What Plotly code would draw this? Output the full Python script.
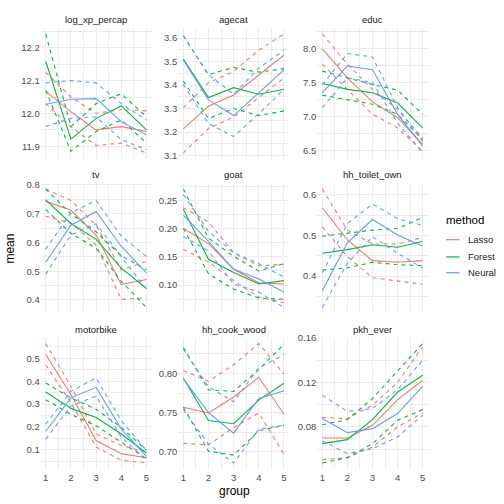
import plotly.graph_objects as go

groups = [1, 2, 3, 4, 5]
methods = ["Lasso", "Forest", "Neural"]
colors = {"Lasso": "#F8766D", "Forest": "#00BA38", "Neural": "#619CFF"}
panel_names = ["log_xp_percap", "agecat", "educ", "tv", "goat",
               "hh_toilet_own", "motorbike", "hh_cook_wood", "pkh_ever"]

# each method: mean, lower bound, upper bound
log_xp_percap = {
    "Lasso":  {"mean": [12.068, 12.005, 11.950, 11.960, 11.945],
               "lo":   [12.030, 11.960, 11.902, 11.910, 11.880],
               "hi":   [12.125, 12.050, 12.000, 12.012, 12.008]},
    "Forest": {"mean": [12.158, 11.922, 11.985, 12.023, 11.950],
               "lo":   [12.070, 11.885, 11.945, 11.980, 11.910],
               "hi":   [12.242, 11.960, 12.030, 12.060, 11.990]},
    "Neural": {"mean": [12.028, 12.043, 12.045, 11.975, 11.935],
               "lo":   [11.960, 11.985, 11.990, 11.920, 11.890],
               "hi":   [12.093, 12.100, 12.093, 12.030, 11.980]},
}
agecat = {
    "Lasso":  {"mean": [3.213, 3.310, 3.358, 3.445, 3.528],
               "lo":   [3.111, 3.215, 3.264, 3.347, 3.430],
               "hi":   [3.304, 3.410, 3.458, 3.549, 3.618]},
    "Forest": {"mean": [3.511, 3.347, 3.389, 3.361, 3.382],
               "lo":   [3.417, 3.257, 3.300, 3.270, 3.290],
               "hi":   [3.610, 3.445, 3.475, 3.455, 3.470]},
    "Neural": {"mean": [3.507, 3.337, 3.270, 3.368, 3.465],
               "lo":   [3.403, 3.236, 3.181, 3.278, 3.382],
               "hi":   [3.611, 3.444, 3.361, 3.472, 3.549]},
}
educ = {
    "Lasso":  {"mean": [8.000, 7.570, 7.215, 6.980, 6.585],
               "lo":   [7.770, 7.400, 7.030, 6.830, 6.485],
               "hi":   [8.220, 7.770, 7.400, 7.100, 6.680]},
    "Forest": {"mean": [7.487, 7.400, 7.350, 7.200, 6.830],
               "lo":   [7.314, 7.250, 7.180, 7.030, 6.660],
               "hi":   [7.670, 7.570, 7.470, 7.390, 7.030]},
    "Neural": {"mean": [7.350, 7.745, 7.690, 7.030, 6.560],
               "lo":   [7.130, 7.570, 7.500, 6.900, 6.460],
               "hi":   [7.470, 7.930, 7.880, 7.130, 6.630]},
}
tv = {
    "Lasso":  {"mean": [0.743, 0.712, 0.626, 0.454, 0.471],
               "lo":   [0.691, 0.668, 0.591, 0.402, 0.408],
               "hi":   [0.786, 0.746, 0.660, 0.505, 0.534]},
    "Forest": {"mean": [0.748, 0.666, 0.611, 0.511, 0.440],
               "lo":   [0.714, 0.632, 0.580, 0.465, 0.374],
               "hi":   [0.786, 0.700, 0.637, 0.554, 0.505]},
    "Neural": {"mean": [0.531, 0.660, 0.708, 0.586, 0.494],
               "lo":   [0.490, 0.626, 0.665, 0.551, 0.437],
               "hi":   [0.577, 0.703, 0.746, 0.622, 0.551]},
}
goat = {
    "Lasso":  {"mean": [0.2007, 0.1735, 0.128, 0.104, 0.102],
               "lo":   [0.163, 0.141, 0.108, 0.079, 0.069],
               "hi":   [0.237, 0.212, 0.157, 0.134, 0.137]},
    "Forest": {"mean": [0.234, 0.1457, 0.1225, 0.102, 0.108],
               "lo":   [0.200, 0.120, 0.093, 0.077, 0.075],
               "hi":   [0.270, 0.183, 0.151, 0.125, 0.138]},
    "Neural": {"mean": [0.224, 0.1775, 0.128, 0.111, 0.0877],
               "lo":   [0.186, 0.160, 0.102, 0.0877, 0.0605],
               "hi":   [0.260, 0.195, 0.157, 0.138, 0.114]},
}
hh_toilet_own = {
    "Lasso":  {"mean": [0.568, 0.489, 0.438, 0.434, 0.438],
               "lo":   [0.521, 0.448, 0.396, 0.388, 0.380],
               "hi":   [0.614, 0.513, 0.479, 0.479, 0.495]},
    "Forest": {"mean": [0.456, 0.465, 0.477, 0.471, 0.485],
               "lo":   [0.415, 0.420, 0.434, 0.428, 0.426],
               "hi":   [0.498, 0.506, 0.513, 0.517, 0.544]},
    "Neural": {"mean": [0.364, 0.482, 0.539, 0.501, 0.474],
               "lo":   [0.323, 0.432, 0.497, 0.456, 0.420],
               "hi":   [0.408, 0.529, 0.577, 0.541, 0.525]},
}
motorbike = {
    "Lasso":  {"mean": [0.517, 0.342, 0.140, 0.083, 0.065],
               "lo":   [0.471, 0.306, 0.112, 0.054, 0.042],
               "hi":   [0.565, 0.378, 0.169, 0.119, 0.090]},
    "Forest": {"mean": [0.353, 0.281, 0.241, 0.169, 0.086],
               "lo":   [0.319, 0.255, 0.205, 0.133, 0.061],
               "hi":   [0.392, 0.327, 0.277, 0.198, 0.097]},
    "Neural": {"mean": [0.181, 0.327, 0.373, 0.191, 0.071],
               "lo":   [0.147, 0.291, 0.335, 0.155, 0.054],
               "hi":   [0.212, 0.356, 0.414, 0.227, 0.097]},
}
hh_cook_wood = {
    "Lasso":  {"mean": [0.757, 0.7496, 0.770, 0.795, 0.748],
               "lo":   [0.711, 0.709, 0.731, 0.7496, 0.697],
               "hi":   [0.8035, 0.790, 0.811, 0.838, 0.799]},
    "Forest": {"mean": [0.794, 0.740, 0.736, 0.766, 0.7875],
               "lo":   [0.757, 0.701, 0.696, 0.727, 0.734],
               "hi":   [0.833, 0.779, 0.777, 0.805, 0.837]},
    "Neural": {"mean": [0.793, 0.750, 0.724, 0.768, 0.778],
               "lo":   [0.754, 0.710, 0.686, 0.729, 0.734],
               "hi":   [0.831, 0.783, 0.764, 0.807, 0.824]},
}
pkh_ever = {
    "Lasso":  {"mean": [0.070, 0.070, 0.0815, 0.1046, 0.122],
               "lo":   [0.0506, 0.0524, 0.062, 0.080, 0.0926],
               "hi":   [0.0884, 0.0875, 0.0995, 0.120, 0.152]},
    "Forest": {"mean": [0.065, 0.0686, 0.0866, 0.1114, 0.1264],
               "lo":   [0.0476, 0.0524, 0.065, 0.086, 0.0956],
               "hi":   [0.082, 0.0866, 0.1055, 0.130, 0.155]},
    "Neural": {"mean": [0.0875, 0.0749, 0.0785, 0.092, 0.1165],
               "lo":   [0.0674, 0.056, 0.0605, 0.071, 0.0905],
               "hi":   [0.1085, 0.094, 0.0965, 0.1135, 0.140]},
}
panel_data = [log_xp_percap, agecat, educ, tv, goat,
              hh_toilet_own, motorbike, hh_cook_wood, pkh_ever]
y_dtick = [0.1, 0.1, 0.5, 0.1, 0.05, 0.1, 0.1, 0.05, 0.04]
y_fmt = [".1f", ".1f", ".1f", ".1f", ".2f", ".1f", ".1f", ".2f", ".2f"]

# ---- layout geometry (pixels of a 504 x 504 canvas) ----
W = H = 504
cols_px = [(40.7, 151.5), (178.3, 289.0), (317.3, 427.7)]
rows_px = [(23.3, 156.0), (180.6, 312.7), (337.2, 470.5)]
FONT = "Liberation Sans, Arial, sans-serif"
GRID = "#EBEBEB"
TICK_COL = "#4D4D4D"

fig = go.Figure()
annotations = []
shapes = []
layout_axes = {}

for i, (name, data) in enumerate(zip(panel_names, panel_data)):
    r, c = divmod(i, 3)
    idx = i + 1
    xa = "x" if idx == 1 else f"x{idx}"
    ya = "y" if idx == 1 else f"y{idx}"
    for m in methods:
        d = data[m]
        for key in ["lo", "hi"]:
            fig.add_trace(go.Scatter(
                x=groups, y=d[key], mode="lines", xaxis=xa, yaxis=ya,
                line=dict(color=colors[m], width=1.1, dash="4px,4px"),
                showlegend=False, hoverinfo="skip"))
        fig.add_trace(go.Scatter(
            x=groups, y=d["mean"], mode="lines", xaxis=xa, yaxis=ya,
            name=m, showlegend=False,
            line=dict(color=colors[m], width=1.1)))

    allv = [v for m in methods for k in ("mean", "lo", "hi") for v in data[m][k]]
    lo, hi = min(allv), max(allv)
    pad = (hi - lo) * 0.05
    l, rr = cols_px[c]
    t, b = rows_px[r]
    xkey = "xaxis" if idx == 1 else f"xaxis{idx}"
    ykey = "yaxis" if idx == 1 else f"yaxis{idx}"
    layout_axes[xkey] = dict(
        domain=[l / W, rr / W], anchor=ya, range=[0.8, 5.2],
        tick0=1, dtick=1, showgrid=True, gridcolor=GRID, gridwidth=1.1,
        minor=dict(dtick=0.5, tick0=0.5, showgrid=True, gridcolor=GRID, gridwidth=0.55),
        zeroline=False, showline=False, ticks="",
        showticklabels=(r == 2), ticklabelstandoff=2,
        tickfont=dict(size=9.5, color=TICK_COL, family=FONT),
        fixedrange=True)
    layout_axes[ykey] = dict(
        domain=[1 - b / H, 1 - t / H], anchor=xa, range=[lo - pad, hi + pad],
        tick0=0, dtick=y_dtick[i], tickformat=y_fmt[i],
        showgrid=True, gridcolor=GRID, gridwidth=1.1,
        minor=dict(dtick=y_dtick[i] / 2, tick0=0, showgrid=True, gridcolor=GRID, gridwidth=0.55),
        zeroline=False, showline=False, ticks="",
        tickfont=dict(size=9.5, color=TICK_COL, family=FONT),
        fixedrange=True)
    annotations.append(dict(
        text=name, x=(l + rr) / 2 / W, y=1 - (t - 8.5) / H,
        xref="paper", yref="paper", xanchor="center", yanchor="middle",
        showarrow=False, font=dict(size=9.5, color="#1A1A1A", family=FONT)))

annotations.append(dict(
    text="mean", x=10 / W, y=1 - 247 / H, xref="paper", yref="paper",
    textangle=-90, showarrow=False, xanchor="center", yanchor="middle",
    font=dict(size=12, color="#000000", family=FONT)))
annotations.append(dict(
    text="group", x=234 / W, y=1 - 493 / H, xref="paper", yref="paper",
    showarrow=False, xanchor="center", yanchor="middle",
    font=dict(size=12, color="#000000", family=FONT)))

# ---- legend (drawn manually to match ggplot key size) ----
annotations.append(dict(
    text="method", x=444 / W, y=1 - 218 / H, xref="paper", yref="paper",
    showarrow=False, xanchor="left", yanchor="middle",
    font=dict(size=11.5, color="#000000", family=FONT)))
legend_y = [238, 255.5, 271.5]
for m, ly in zip(methods, legend_y):
    shapes.append(dict(
        type="line", xref="paper", yref="paper",
        x0=446 / W, x1=459.5 / W, y0=1 - ly / H, y1=1 - ly / H,
        line=dict(color=colors[m], width=1.2)))
    annotations.append(dict(
        text=m, x=466 / W, y=1 - ly / H, xref="paper", yref="paper",
        showarrow=False, xanchor="left", yanchor="middle",
        font=dict(size=9.5, color="#1A1A1A", family=FONT)))

fig.update_layout(
    width=W, height=H,
    margin=dict(l=0, r=0, t=0, b=0),
    paper_bgcolor="white", plot_bgcolor="white",
    font=dict(family=FONT),
    annotations=annotations,
    shapes=shapes,
    showlegend=False,
    **layout_axes)

fig.write_html("out.html",
               config={"displayModeBar": False},
               post_script="document.body.style.margin='0';document.body.style.padding='0';")
